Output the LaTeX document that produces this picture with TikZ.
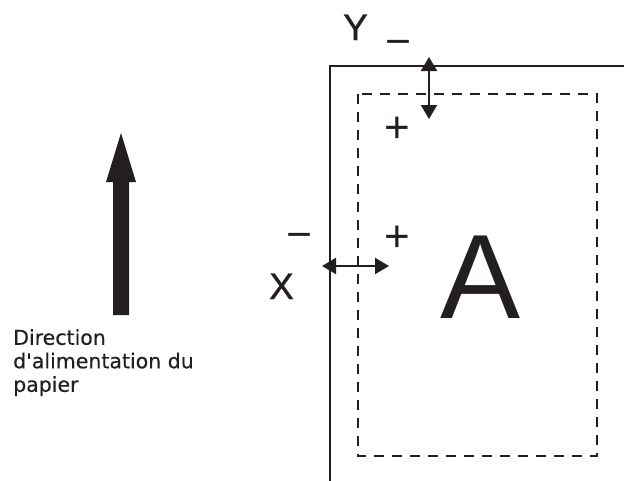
\documentclass[tikz,border=0pt]{standalone}
\usepackage{fontspec}
\setmainfont{Liberation Sans}
\newfontfamily\labelfont{Liberation Sans}[FakeBold=0.9]
\newfontfamily\dvfont{DejaVu Sans}[FakeBold=0.3]
\usetikzlibrary{arrows.meta}
\definecolor{ink}{RGB}{35,31,32}
\begin{document}
\begin{tikzpicture}[x=1pt,y=-1pt,
  frameline/.style={draw=ink,line width=2.4pt},
  arealine/.style={draw=ink,line width=2.4pt,dash pattern=on 10pt off 8pt},
  dblarrow/.style={draw=ink,line width=2pt,{Triangle[width=16pt,length=14pt]}-{Triangle[width=16pt,length=14pt]}},
  biglabel/.style={text=ink,inner sep=0pt,anchor=base,font=\labelfont\fontsize{37}{44}\selectfont},
  signlabel/.style={text=ink,inner sep=0pt,anchor=base,font=\fontsize{44}{50}\selectfont},
  minuslabel/.style={text=ink,inner sep=0pt,anchor=base,font=\labelfont\fontsize{38}{44}\selectfont},
  caption/.style={text=ink,inner sep=0pt,anchor=north west,align=left,font=\dvfont\fontsize{20.5}{23.5}\selectfont}
]
\useasboundingbox (0,0) rectangle (624,480);
% paper frame (open to right and bottom)
\draw[frameline] (330,482) -- (330,66) -- (626,66);
% printable area
\draw[arealine] (358,94) rectangle (597,456);
% feed direction arrow
\fill[ink] (113,315) -- (113,182) -- (106,182) -- (121,133) -- (136,182) -- (129,182) -- (129,315) -- cycle;
\node[caption] (cap) at (13,329) {Direction\\d'alimentation du\\papier};
% Y adjustment
\node[biglabel] (ylab) at (355.5,40) {Y};
\node[minuslabel] (yminus) at (398,51) {–};
\node[signlabel] (yplus) at (397,142) {+};
\coordinate (ya) at (429,57);
\coordinate (yb) at (429,119);
\draw[dblarrow] (ya) -- (yb);
% X adjustment
\node[biglabel] (xlab) at (281.5,299) {X};
\node[minuslabel] (xminus) at (299,244) {–};
\node[signlabel] (xplus) at (397.5,251) {+};
\coordinate (xa) at (322,266);
\coordinate (xb) at (389,266);
\draw[dblarrow] (xa) -- (xb);
% big letter
\node[text=ink,inner sep=0pt,anchor=base,font=\fontsize{120}{140}\selectfont] (bigA) at (481,318) {A};
\end{tikzpicture}
\end{document}
